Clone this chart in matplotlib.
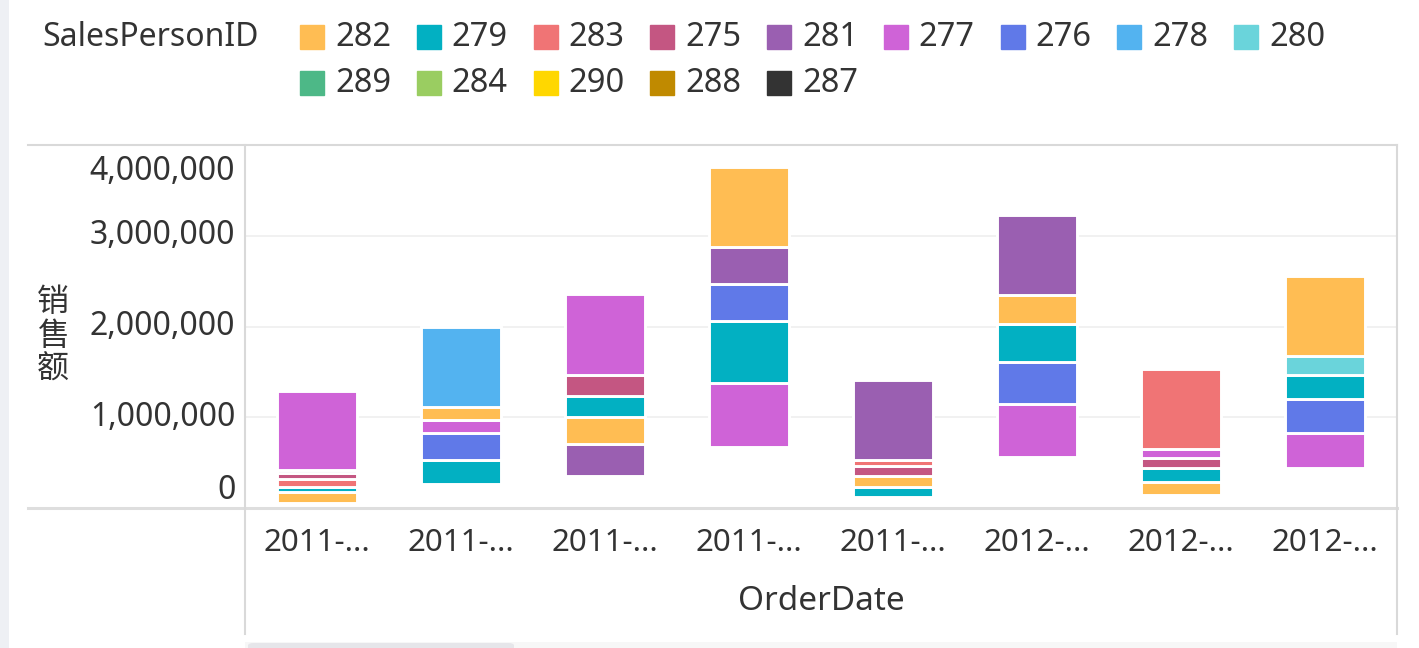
import matplotlib
matplotlib.use("Agg")
import matplotlib.pyplot as plt
from matplotlib.patches import Rectangle, FancyBboxPatch
from matplotlib.lines import Line2D

plt.rcParams['font.family'] = ['Noto Sans', 'Noto Sans CJK SC', 'DejaVu Sans']

# categories (labels are truncated in the source chart)
order_dates = ["2011-...", "2011-...", "2011-...", "2011-...",
               "2011-...", "2012-...", "2012-...", "2012-..."]

# legend order and colours
sales_ids = ["282", "279", "283", "275", "281", "277", "276", "278", "280",
             "289", "284", "290", "288", "287"]
id_colors = ["#FFBD53", "#02B0C2", "#F07475", "#C45682", "#9A5FB1", "#CF63D7",
             "#6079E8", "#53B3F0", "#6AD4DB", "#4DB887", "#9ACD61", "#FFD700",
             "#C08A00", "#333333"]

# stack offset where each column starts (sales, in millions)
stack_base = [0.058, 0.265, 0.358, 0.677, 0.119, 0.563, 0.149, 0.449]

# stack order per column, bottom to top, and the matching sales (millions)
stack_ids = [
    ["282", "279", "283", "275", "281", "277"],
    ["279", "276", "277", "282", "278"],
    ["281", "282", "279", "275", "277"],
    ["277", "279", "276", "281", "282"],
    ["279", "282", "275", "283", "281"],
    ["277", "276", "279", "282", "281"],
    ["282", "279", "275", "277", "283"],
    ["277", "276", "279", "280", "282"],
]
stack_vals = [
    [0.118, 0.063, 0.088, 0.058, 0.033, 0.878],
    [0.267, 0.292, 0.145, 0.146, 0.879],
    [0.348, 0.294, 0.235, 0.236, 0.884],
    [0.706, 0.676, 0.409, 0.412, 0.881],
    [0.118, 0.119, 0.112, 0.064, 0.883],
    [0.586, 0.466, 0.415, 0.322, 0.881],
    [0.146, 0.146, 0.116, 0.093, 0.882],
    [0.377, 0.381, 0.263, 0.205, 0.881],
]

y_ticks = [0, 1000000, 2000000, 3000000, 4000000]

W, H = 1419, 648
fig = plt.figure(figsize=(W / 100, H / 100), dpi=100)
fig.patch.set_facecolor("white")

def fx(px):
    return px / W

def fy(py):
    return 1 - py / H

top_px, bot_px, left_px, right_px = 145, 508.3, 245, 1397
ax = fig.add_axes([fx(left_px), fy(bot_px), fx(right_px - left_px), (bot_px - top_px) / H])
for s in ax.spines.values():
    s.set_visible(False)

color_of = dict(zip(sales_ids, id_colors))
for i, (ids, vals) in enumerate(zip(stack_ids, stack_vals)):
    bottom = stack_base[i] * 1e6
    for sid, v in zip(ids, vals):
        ax.bar(i, v * 1e6, bottom=bottom, width=0.56, color=color_of[sid],
               edgecolor="white", linewidth=2.1, zorder=3)
        bottom += v * 1e6

ax.set_xlim(-0.5, len(order_dates) - 0.5)
ax.set_ylim(0, 4000000)

# grid
for t in y_ticks[1:-1]:
    ax.axhline(t, color="#f1f1f1", lw=1.4, zorder=1)

ax.set_yticks([])
ax.set_xticks(range(len(order_dates)))
ax.set_xticklabels(order_dates, fontsize=22.5, color="#333333")
ax.tick_params(axis="x", length=0, pad=14.5)

# y tick labels, the end ones pulled inside the plot
for t in y_ticks:
    dy = 0
    if t == y_ticks[-1]:
        dy = -19
    elif t == y_ticks[0]:
        dy = 13
    ax.annotate(f"{t:,}", xy=(0, t), xycoords=("axes fraction", "data"),
                xytext=(-7, dy), textcoords="offset points",
                ha="right", va="center", fontsize=23, color="#333333")

fig.text(fx(821), fy(601), "OrderDate", ha="center", va="center",
         fontsize=24, color="#333333")
fig.text(fx(53), fy(336), "销\n售\n额", ha="center", va="center",
         fontsize=23, color="#333333", linespacing=1.06,
         family=["Noto Sans CJK SC", "DejaVu Sans"])

# frame lines of the chart panel
line_c = "#d9d9d9"
fig.add_artist(Line2D([fx(28), fx(right_px)], [fy(top_px), fy(top_px)], color=line_c, lw=1.5))
fig.add_artist(Line2D([fx(28), fx(right_px)], [fy(bot_px), fy(bot_px)], color="#dedede", lw=2.2))
fig.add_artist(Line2D([fx(left_px), fx(left_px)], [fy(top_px), fy(634)], color=line_c, lw=1.5))
fig.add_artist(Line2D([fx(right_px), fx(right_px)], [fy(top_px), fy(634)], color=line_c, lw=1.5))

# legend
fig.text(fx(42), fy(37), "SalesPersonID", ha="left", va="center",
         fontsize=23, color="#333333")
for k, (sid, c) in enumerate(zip(sales_ids, id_colors)):
    row, col = divmod(k, 9)
    x0 = 300 + col * 116.75
    yc = 37 + row * 46
    fig.add_artist(Rectangle((fx(x0), fy(yc + 12)), fx(24), 24 / H,
                             transform=fig.transFigure, color=c))
    fig.text(fx(x0 + 35), fy(yc), sid, ha="left", va="center",
             fontsize=23.5, color="#333333")

# left strip and bottom scrollbar
fig.add_artist(Rectangle((0, 0), fx(9), 1, transform=fig.transFigure,
                         color="#eef0f4", lw=0))
fig.add_artist(Rectangle((fx(left_px), 0), fx(right_px - left_px), 6 / H,
                         transform=fig.transFigure, color="#f7f7f7", lw=0))
fig.add_artist(FancyBboxPatch((fx(left_px + 3), -4 / H), fx(266), 9 / H,
                              boxstyle="round,pad=0,rounding_size=0.004",
                              transform=fig.transFigure, color="#e6e6ea", lw=0))

fig.savefig("out.png", dpi=100)
